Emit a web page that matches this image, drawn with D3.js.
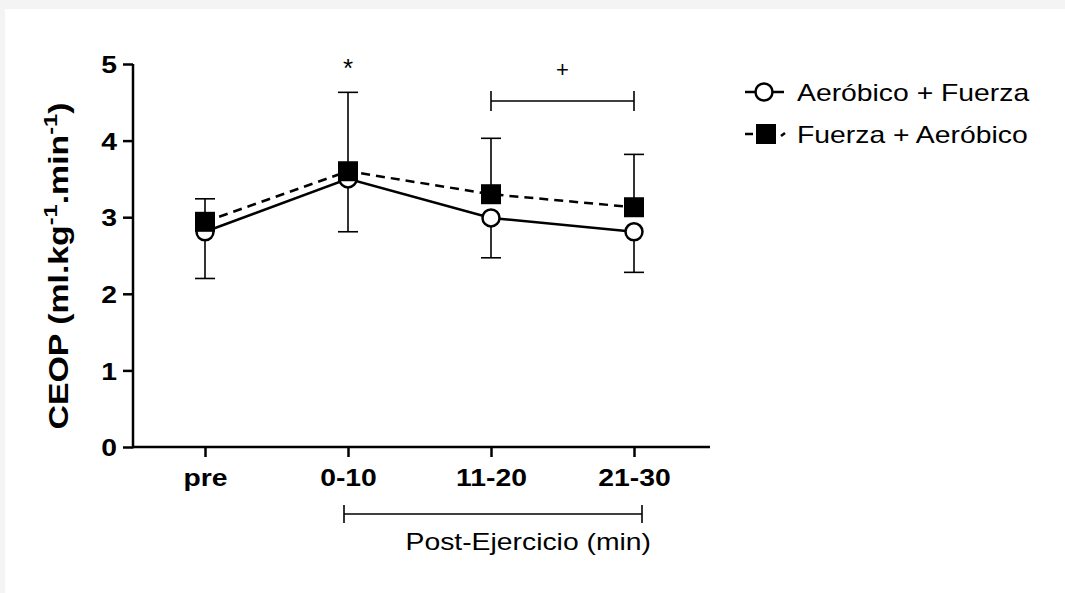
<!DOCTYPE html>
<html>
<head>
<meta charset="utf-8">
<script src="https://cdn.jsdelivr.net/npm/d3@7"></script>
<style>
  body { margin: 0; background: #f4f4f4; }
  svg { display: block; }
  text { font-family: "Liberation Sans", Arial, sans-serif; fill: #000; }
</style>
</head>
<body>
<svg></svg>
<script>
// data
var categories = ["pre", "0-10", "11-20", "21-30"];
var aerFuerza = [2.81, 3.5, 2.99, 2.81];        // open circles
var aerFuerzaLow = [0.61, 0.69, 0.52, 0.53];    // lower error
var fuerzaAer = [2.94, 3.6, 3.3, 3.13];         // filled squares
var fuerzaAerHigh = [0.3, 1.03, 0.73, 0.69];    // upper error
var yTicks = [0, 1, 2, 3, 4, 5];
var seriesNames = ["Aeróbico + Fuerza", "Fuerza + Aeróbico"];

var screen = { width: 1065, height: 593 };
var stretch = 1.18;   // text in the picture is a bit wide

var svg = d3.select("svg")
            .attr("width", screen.width)
            .attr("height", screen.height);

svg.append("rect")
   .attr("x", 5).attr("y", 9)
   .attr("width", screen.width - 5).attr("height", screen.height - 9)
   .attr("fill", "#fff");

var margins = { left: 133, top: 64 };

var xScale = d3.scalePoint()
               .domain(categories)
               .range([72, 501]);

var yScale = d3.scaleLinear()
               .domain([0, 5])
               .range([383, 0]);

var plot = svg.append("g")
              .attr("transform", "translate(" + margins.left + "," + margins.top + ")");

// widen horizontal text
function widen(sel)
{
  sel.each(function()
  {
    var w = this.getComputedTextLength();
    d3.select(this).attr("textLength", w * stretch).attr("lengthAdjust", "spacingAndGlyphs");
  });
}

// axes
var yAxis = plot.append("g")
                .call(d3.axisLeft(yScale).tickValues(yTicks).tickFormat(d3.format("d"))
                        .tickSize(10).tickPadding(6).tickSizeOuter(0));
var xAxis = plot.append("g")
                .attr("transform", "translate(0," + yScale(0) + ")")
                .call(d3.axisBottom(xScale).tickSize(10).tickPadding(10).tickSizeOuter(0));

[yAxis, xAxis].forEach(function(ax)
{
  ax.select(".domain").attr("stroke", "#000").attr("stroke-width", 2.5);
  ax.selectAll(".tick line").attr("stroke", "#000").attr("stroke-width", 2.5);
  ax.selectAll(".tick text")
    .attr("fill", "#000")
    .style("font-size", "24px")
    .style("font-weight", "bold")
    .style("font-family", "'Liberation Sans', Arial, sans-serif");
  widen(ax.selectAll(".tick text"));
});
xAxis.select(".domain").attr("d", "M0,0H577");
yAxis.select(".domain").attr("d", "M0,0V" + (yScale(0) + 1.25));
xAxis.selectAll(".tick text").attr("dy", null).attr("y", 39);
yAxis.selectAll(".tick text").attr("dy", "0.36em");

// y label
var yLab = svg.append("text")
   .attr("text-anchor", "middle")
   .style("font-size", "23px")
   .style("font-weight", "bold")
   .html("CEOP (ml.kg<tspan dy='-9' font-size='16'>-1</tspan><tspan dy='9'>.min</tspan><tspan dy='-9' font-size='16'>-1</tspan><tspan dy='9'>)</tspan>");
var labLen = yLab.node().getComputedTextLength();
yLab.attr("transform", "translate(68,266) scale(" + stretch + "," + (327 / labLen) + ") rotate(-90)");

// error bars
var capW = 10;
function errBar(x, y1, y2)
{
  var g = plot.append("g").attr("stroke", "#000").attr("stroke-width", 1.6);
  g.append("line").attr("x1", x).attr("x2", x).attr("y1", y1).attr("y2", y2);
  g.append("line").attr("x1", x - capW).attr("x2", x + capW).attr("y1", y2).attr("y2", y2);
}
categories.forEach(function(c, i)
{
  errBar(xScale(c), yScale(fuerzaAer[i]), yScale(fuerzaAer[i] + fuerzaAerHigh[i]));
  errBar(xScale(c), yScale(aerFuerza[i]), yScale(aerFuerza[i] - aerFuerzaLow[i]));
});

var line = d3.line()
             .x(function(d, i) { return xScale(categories[i]); })
             .y(function(d) { return yScale(d); });

plot.append("path")
    .datum(aerFuerza)
    .attr("d", line)
    .attr("fill", "none")
    .attr("stroke", "#000")
    .attr("stroke-width", 2.5);

plot.append("path")
    .datum(fuerzaAer)
    .attr("d", line)
    .attr("fill", "none")
    .attr("stroke", "#000")
    .attr("stroke-width", 2.5)
    .attr("stroke-dasharray", "9,6");

plot.selectAll("circle.af")
    .data(aerFuerza)
    .enter()
    .append("circle")
    .attr("cx", function(d, i) { return xScale(categories[i]); })
    .attr("cy", function(d) { return yScale(d); })
    .attr("r", 8.5)
    .attr("fill", "#fff")
    .attr("stroke", "#000")
    .attr("stroke-width", 2.5);

var sq = 20;
plot.selectAll("rect.fa")
    .data(fuerzaAer)
    .enter()
    .append("rect")
    .attr("x", function(d, i) { return xScale(categories[i]) - sq / 2; })
    .attr("y", function(d) { return yScale(d) - sq / 2; })
    .attr("width", sq)
    .attr("height", sq)
    .attr("fill", "#000");

// significance marks
plot.append("text")
    .attr("x", xScale("0-10"))
    .attr("y", 13)
    .attr("text-anchor", "middle")
    .style("font-size", "26px")
    .text("*");

var br = plot.append("g").attr("stroke", "#000").attr("stroke-width", 1.6);
var by = 37;
br.append("line").attr("x1", xScale("11-20")).attr("x2", xScale("21-30")).attr("y1", by).attr("y2", by);
br.append("line").attr("x1", xScale("11-20")).attr("x2", xScale("11-20")).attr("y1", by - 10).attr("y2", by + 10);
br.append("line").attr("x1", xScale("21-30")).attr("x2", xScale("21-30")).attr("y1", by - 10).attr("y2", by + 10);
plot.append("text")
    .attr("x", (xScale("11-20") + xScale("21-30")) / 2)
    .attr("y", 13)
    .attr("text-anchor", "middle")
    .style("font-size", "22px")
    .text("+");

// post-exercise bracket under the axis
var px1 = xScale("0-10") - 4, px2 = xScale("21-30") + 8, py = 450;
var pb = plot.append("g").attr("stroke", "#000").attr("stroke-width", 1.6);
pb.append("line").attr("x1", px1).attr("x2", px2).attr("y1", py).attr("y2", py);
pb.append("line").attr("x1", px1).attr("x2", px1).attr("y1", py - 9).attr("y2", py + 9);
pb.append("line").attr("x1", px2).attr("x2", px2).attr("y1", py - 9).attr("y2", py + 9);
var postLab = plot.append("text")
    .attr("x", px2 + 9)
    .attr("y", 486)
    .attr("text-anchor", "end")
    .style("font-size", "24px")
    .text("Post-Ejercicio (min)");
widen(postLab);

// legend
var legend = svg.append("g").attr("transform", "translate(745,92)");
var l1 = legend.append("g");
l1.append("line").attr("x1", 0).attr("x2", 39).attr("y1", 0).attr("y2", 0)
  .attr("stroke", "#000").attr("stroke-width", 2.5);
l1.append("circle").attr("cx", 19).attr("cy", 0).attr("r", 8.5)
  .attr("fill", "#fff").attr("stroke", "#000").attr("stroke-width", 2.5);
widen(l1.append("text").attr("x", 52).attr("y", 9).style("font-size", "24px").text(seriesNames[0]));

var l2 = legend.append("g").attr("transform", "translate(0,42)");
l2.append("line").attr("x1", 0).attr("x2", 8).attr("y1", 0).attr("y2", 0)
  .attr("stroke", "#000").attr("stroke-width", 2.5);
l2.append("line").attr("x1", 36).attr("x2", 40).attr("y1", 2).attr("y2", -1)
  .attr("stroke", "#000").attr("stroke-width", 2.5);
l2.append("rect").attr("x", 11).attr("y", -10).attr("width", 20).attr("height", 20).attr("fill", "#000");
widen(l2.append("text").attr("x", 52).attr("y", 9).style("font-size", "24px").text(seriesNames[1]));
</script>
</body>
</html>
